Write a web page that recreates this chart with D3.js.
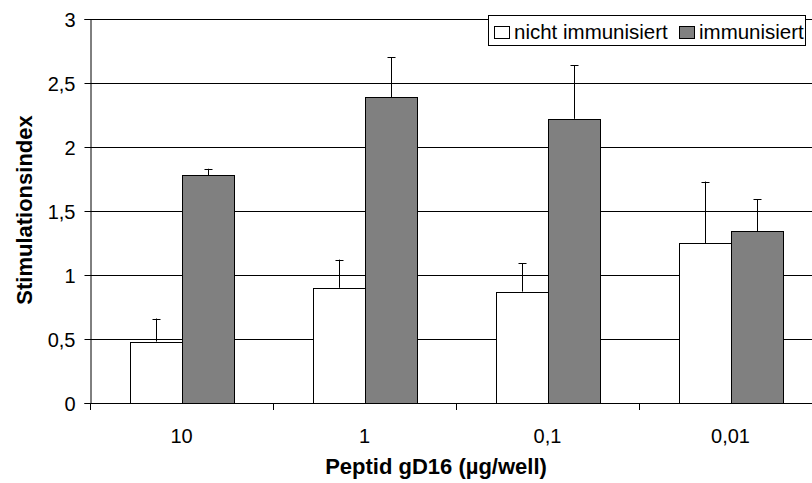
<!DOCTYPE html>
<html>
<head>
<meta charset="utf-8">
<script src="https://cdn.jsdelivr.net/npm/d3@7"></script>
<style>
  body { margin: 0; background: #fff; }
  text { font-family: "Liberation Sans", Arial, sans-serif; fill: #000; }
</style>
</head>
<body>
<svg id="chart" width="812" height="483"></svg>
<script>
const categories = ['10', '1', '0,1', '0,01'];
const seriesNames = ['nicht immunisiert', 'immunisiert'];
const nichtImmun = [0.48, 0.90, 0.87, 1.25];
const nichtImmunErr = [0.18, 0.22, 0.22, 0.48];
const immun = [1.78, 2.39, 2.22, 1.34];
const immunErr = [0.05, 0.31, 0.42, 0.25];
const yTicks = [0, 0.5, 1, 1.5, 2, 2.5, 3];
const fills = ['#ffffff', '#808080'];

const svg = d3.select('#chart');
const plotL = 90, plotR = 822, plotT = 19, plotB = 403;

const x = d3.scaleBand()
  .domain(categories)
  .range([plotL, plotR])
  .paddingInner(0)
  .paddingOuter(0);

const inner = d3.scaleBand()
  .domain(seriesNames)
  .range([x.bandwidth() / 2 - 52, x.bandwidth() / 2 + 52]);

const y = d3.scaleLinear().domain([0, 3]).range([plotB, plotT]);

const fmt = d => String(d).replace('.', ',');

// gridlines
svg.append('g')
  .selectAll('line')
  .data(yTicks.filter(d => d > 0))
  .enter()
  .append('line')
  .attr('x1', plotL)
  .attr('x2', plotR)
  .attr('y1', d => y(d) + 0.5)
  .attr('y2', d => y(d) + 0.5)
  .attr('stroke', '#000')
  .attr('stroke-width', 1);

const rows = categories.map((c, i) => [
  { c, s: seriesNames[0], v: nichtImmun[i], e: nichtImmunErr[i], k: 0 },
  { c, s: seriesNames[1], v: immun[i], e: immunErr[i], k: 1 }
]).flat();

const cx = d => Math.round(x(d.c) + inner(d.s) + inner.bandwidth() / 2);

// error bars (upward only)
const err = svg.append('g');
err.selectAll('line.stem')
  .data(rows)
  .enter()
  .append('line')
  .attr('x1', d => cx(d) + 0.5)
  .attr('x2', d => cx(d) + 0.5)
  .attr('y1', d => y(d.v))
  .attr('y2', d => y(d.v + d.e))
  .attr('stroke', '#000');
err.selectAll('line.cap')
  .data(rows)
  .enter()
  .append('line')
  .attr('x1', d => cx(d) - 3.5)
  .attr('x2', d => cx(d) + 4.5)
  .attr('y1', d => Math.round(y(d.v + d.e)) + 0.5)
  .attr('y2', d => Math.round(y(d.v + d.e)) + 0.5)
  .attr('stroke', '#000');

// bars
svg.append('g')
  .selectAll('rect')
  .data(rows)
  .enter()
  .append('rect')
  .attr('x', d => Math.round(x(d.c) + inner(d.s)) + 0.5)
  .attr('y', d => Math.round(y(d.v)) + 0.5)
  .attr('width', inner.bandwidth())
  .attr('height', d => Math.round(plotB - y(d.v)))
  .attr('fill', d => fills[d.k])
  .attr('stroke', '#000')
  .attr('stroke-width', 1);

// y axis
const yAxis = svg.append('g')
  .attr('transform', `translate(${plotL + 0.5},0)`)
  .call(d3.axisLeft(y).tickValues(yTicks).tickFormat(fmt).tickSize(6).tickPadding(9));
yAxis.selectAll('text').style('font-size', '20px').attr('dy', '0.36em');
yAxis.select('.domain').attr('stroke', '#000');

// x axis
const xTickPos = d3.range(categories.length + 1).map(i => plotL + i * x.bandwidth());
const xAxis = svg.append('g');
xAxis.append('line')
  .attr('x1', plotL).attr('x2', plotR)
  .attr('y1', plotB + 0.5).attr('y2', plotB + 0.5)
  .attr('stroke', '#000');
xAxis.selectAll('line.tick')
  .data(xTickPos)
  .enter()
  .append('line')
  .attr('x1', d => Math.round(d) + 0.5)
  .attr('x2', d => Math.round(d) + 0.5)
  .attr('y1', plotB)
  .attr('y2', plotB + 7)
  .attr('stroke', '#000');
xAxis.selectAll('text')
  .data(categories)
  .enter()
  .append('text')
  .attr('x', d => x(d) + x.bandwidth() / 2)
  .attr('y', 443)
  .attr('text-anchor', 'middle')
  .style('font-size', '20px')
  .text(d => d);

// axis titles
svg.append('text')
  .attr('x', 436)
  .attr('y', 474)
  .attr('text-anchor', 'middle')
  .style('font-size', '22px')
  .style('font-weight', 'bold')
  .text('Peptid gD16 (µg/well)');

svg.append('text')
  .attr('transform', 'translate(32,210) rotate(-90)')
  .attr('text-anchor', 'middle')
  .style('font-size', '22px')
  .style('font-weight', 'bold')
  .text('Stimulationsindex');

// legend
const lg = svg.append('g');
lg.append('rect')
  .attr('x', 488.5).attr('y', 15.5)
  .attr('width', 317).attr('height', 30)
  .attr('fill', '#fff').attr('stroke', '#000');
const legendX = [494, 679];
seriesNames.forEach((s, i) => {
  lg.append('rect')
    .attr('x', legendX[i] + 0.5).attr('y', 26.5)
    .attr('width', 15).attr('height', 12)
    .attr('fill', fills[i]).attr('stroke', '#000');
  lg.append('text')
    .attr('x', legendX[i] + 20).attr('y', 39)
    .style('font-size', '20.5px')
    .text(s);
});
</script>
</body>
</html>
